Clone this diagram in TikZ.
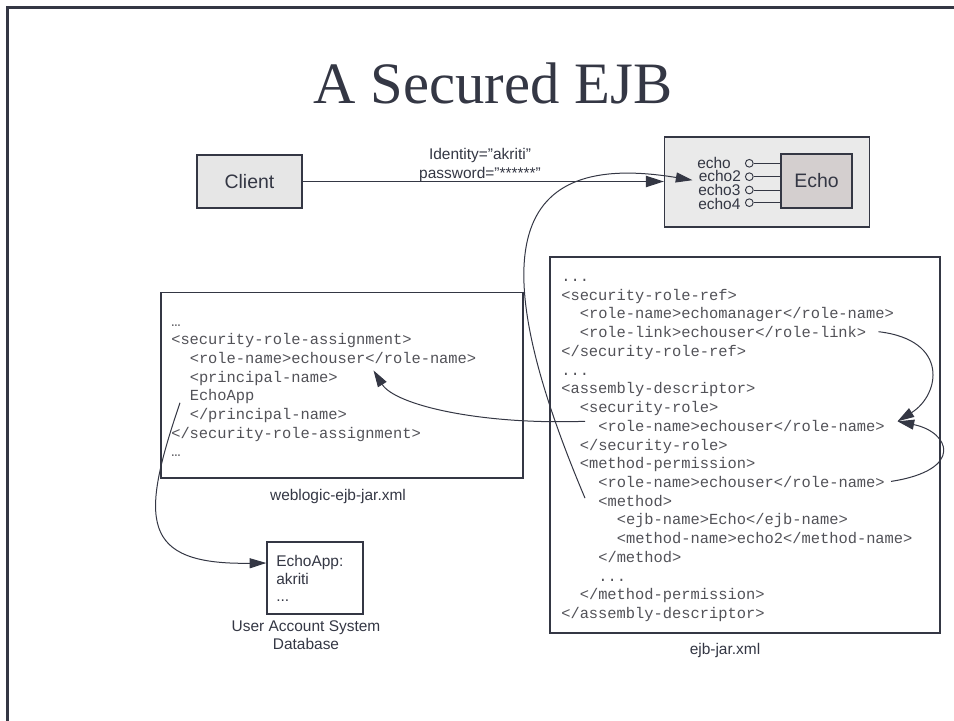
\documentclass[tikz,border=0pt]{standalone}
\usepackage{fontspec}
\setmainfont{Liberation Sans}
\setmonofont{Liberation Mono}
\newfontfamily\titlefont{Liberation Serif}
\usetikzlibrary{arrows.meta,calc}

\definecolor{ink}{RGB}{52,55,68}
\definecolor{codeink}{RGB}{82,82,88}
\definecolor{clientfill}{RGB}{230,230,230}
\definecolor{groupfill}{RGB}{234,234,234}
\definecolor{beanfill}{RGB}{212,207,207}

\tikzset{
  sans/.style={font=\fontsize{11.6pt}{14pt}\selectfont, text=ink, inner sep=0pt},
  bigsans/.style={font=\fontsize{14.6pt}{17pt}\selectfont, text=ink},
  codeline/.style={font=\ttfamily\fontsize{11.55pt}{14pt}\selectfont, text=codeink, inner sep=0pt, anchor=base west},
  boxed/.style={draw=ink, line width=1pt, inner sep=0pt},
  link/.style={draw=ink, line width=0.75pt, -{Triangle[length=12.5pt,width=7.5pt]}},
  port/.style={circle, draw=ink, line width=0.7pt, minimum size=5.8pt, inner sep=0pt},
}

\begin{document}
\begin{tikzpicture}[x=0.75pt, y=-0.75pt]
\useasboundingbox (0,0) rectangle (954,721);

% slide frame
\draw[ink, line width=2.25pt] (7.5,721) -- (7.5,7.5) -- (954,7.5);

% title
\node[font=\titlefont\fontsize{44pt}{50pt}\selectfont, text=ink, anchor=base, inner sep=0pt] (title) at (493,103) {A Secured EJB};

% client and the EJB container
\node[boxed, fill=clientfill, minimum width=78.75pt, minimum height=39.75pt, bigsans] (client) at (249.5,181.5) {Client};
\node[boxed, fill=groupfill, minimum width=153.75pt, minimum height=67.5pt] (group) at (767,182) {};
\node[boxed, fill=beanfill, minimum width=53.25pt, minimum height=40.5pt, bigsans] (echo) at (816.5,181) {Echo};

% method ports of the bean
\node[port] (p1) at (749.3,163.3) {};
\node[port] (p2) at (749.3,176.7) {};
\node[port] (p3) at (749.3,190) {};
\node[port] (p4) at (749.3,202.7) {};
\foreach \p in {p1,p2,p3,p4}
  \draw[ink, line width=0.7pt] (\p.east) -- (\p.east -| echo.west);
\node[sans, anchor=base west] (l1) at (697,168) {echo};
\node[sans, anchor=base west] (l2) at (698.5,181.7) {echo2};
\node[sans, anchor=base west] (l3) at (698,195.4) {echo3};
\node[sans, anchor=base west] (l4) at (698,209.1) {echo4};

% credentials sent by the client
\node[sans, anchor=base] (cred1) at (480,159.5) {Identity="akriti”};
\node[sans, anchor=base] (cred2) at (480,178) {password="******”};
\draw[ink, line width=0.8pt, -{Triangle[length=13.5pt,width=8.5pt]}] (client.east) -- (client.east -| group.west);

% weblogic-ejb-jar.xml
\node[boxed, fill=white, minimum width=271.5pt, minimum height=139.1pt] (wl) at (342,385.25) {};
\node[sans, anchor=base] (wlname) at (338,500) {weblogic-ejb-jar.xml};
\node[codeline] (w1) at (171,326) {…};
\node[codeline] (w2) at (171,344.7) {<security-role-assignment>};
\node[codeline] (w3) at (189.5,363.4) {<role-name>echouser</role-name>};
\node[codeline] (w4) at (189.5,382.1) {<principal-name>};
\node[codeline] (w5) at (189.5,400.8) {EchoApp};
\node[codeline] (w6) at (189.5,419.5) {</principal-name>};
\node[codeline] (w7) at (171,438.2) {</security-role-assignment>};
\node[codeline] (w8) at (171,456.9) {…};

% ejb-jar.xml
\node[boxed, fill=white, minimum width=292.5pt, minimum height=282pt] (ej) at (745,445) {};
\node[sans, anchor=base] (ejname) at (725,654) {ejb-jar.xml};
\node[codeline] (e1)  at (561,281.5) {...};
\node[codeline] (e2)  at (561,300.2) {<security-role-ref>};
\node[codeline] (e3)  at (579.5,318.9) {<role-name>echomanager</role-name>};
\node[codeline] (e4)  at (579.5,337.7) {<role-link>echouser</role-link>};
\node[codeline] (e5)  at (561,356.4) {</security-role-ref>};
\node[codeline] (e6)  at (561,375.1) {...};
\node[codeline] (e7)  at (561,393.8) {<assembly-descriptor>};
\node[codeline] (e8)  at (579.5,412.5) {<security-role>};
\node[codeline] (e9)  at (598,431.3) {<role-name>echouser</role-name>};
\node[codeline] (e10) at (579.5,450.0) {</security-role>};
\node[codeline] (e11) at (579.5,468.7) {<method-permission>};
\node[codeline] (e12) at (598,487.4) {<role-name>echouser</role-name>};
\node[codeline] (e13) at (598,506.1) {<method>};
\node[codeline] (e14) at (616.5,524.9) {<ejb-name>Echo</ejb-name>};
\node[codeline] (e15) at (616.5,543.6) {<method-name>echo2</method-name>};
\node[codeline] (e16) at (598,562.3) {</method>};
\node[codeline] (e17) at (598,581.0) {...};
\node[codeline] (e18) at (579.5,599.7) {</method-permission>};
\node[codeline] (e19) at (561,618.5) {</assembly-descriptor>};

% user account database
\node[boxed, fill=white, minimum width=72pt, minimum height=54pt] (db) at (315,578) {};
\node[sans, anchor=base west] (d1) at (276,566) {EchoApp:};
\node[sans, anchor=base west] (d2) at (276,584.5) {akriti};
\node[sans, anchor=base west] (d3) at (276,601) {...};
\node[sans, anchor=base] (dbname1) at (306,631.5) {User Account System};
\node[sans, anchor=base] (dbname2) at (306,649) {Database};

% connector end points next to the listed elements
\coordinate (linkSrc)   at ($(e4.base east)+(12,-6)$);
\coordinate (roleTip)   at ($(e9.base east)+(12.5,-10)$);
\coordinate (permSrc)   at ($(e12.base east)+(6,-6)$);
\coordinate (roleSrc)   at ($(e9.base west)+(-13,-10)$);
\coordinate (assignTip) at ($(w3.base west)+(184,7)$);
\coordinate (methodSrc) at ($(e13.base west)+(-13,-8)$);
\coordinate (callTip)   at ($(l2.base west)+(-6,-1.5)$);
\coordinate (principal) at ($(w5.base west)+(-9.5,2)$);
\coordinate (dbIn)      at ($(db.west)+(0,-15)$);

% connectors
\draw[link] (linkSrc) .. controls (950,340) and (940,395) .. (roleTip);
\draw[link] (permSrc) .. controls (965,470) and (950,432) .. (roleTip);
\draw[link] (roleSrc) .. controls (480,425) and (395,405) .. (assignTip);
\draw[link] (methodSrc) .. controls (480,250) and (510,150) .. (callTip);
\draw[link] (principal) .. controls (140,520) and (140,565) .. (dbIn);
\end{tikzpicture}
\end{document}
